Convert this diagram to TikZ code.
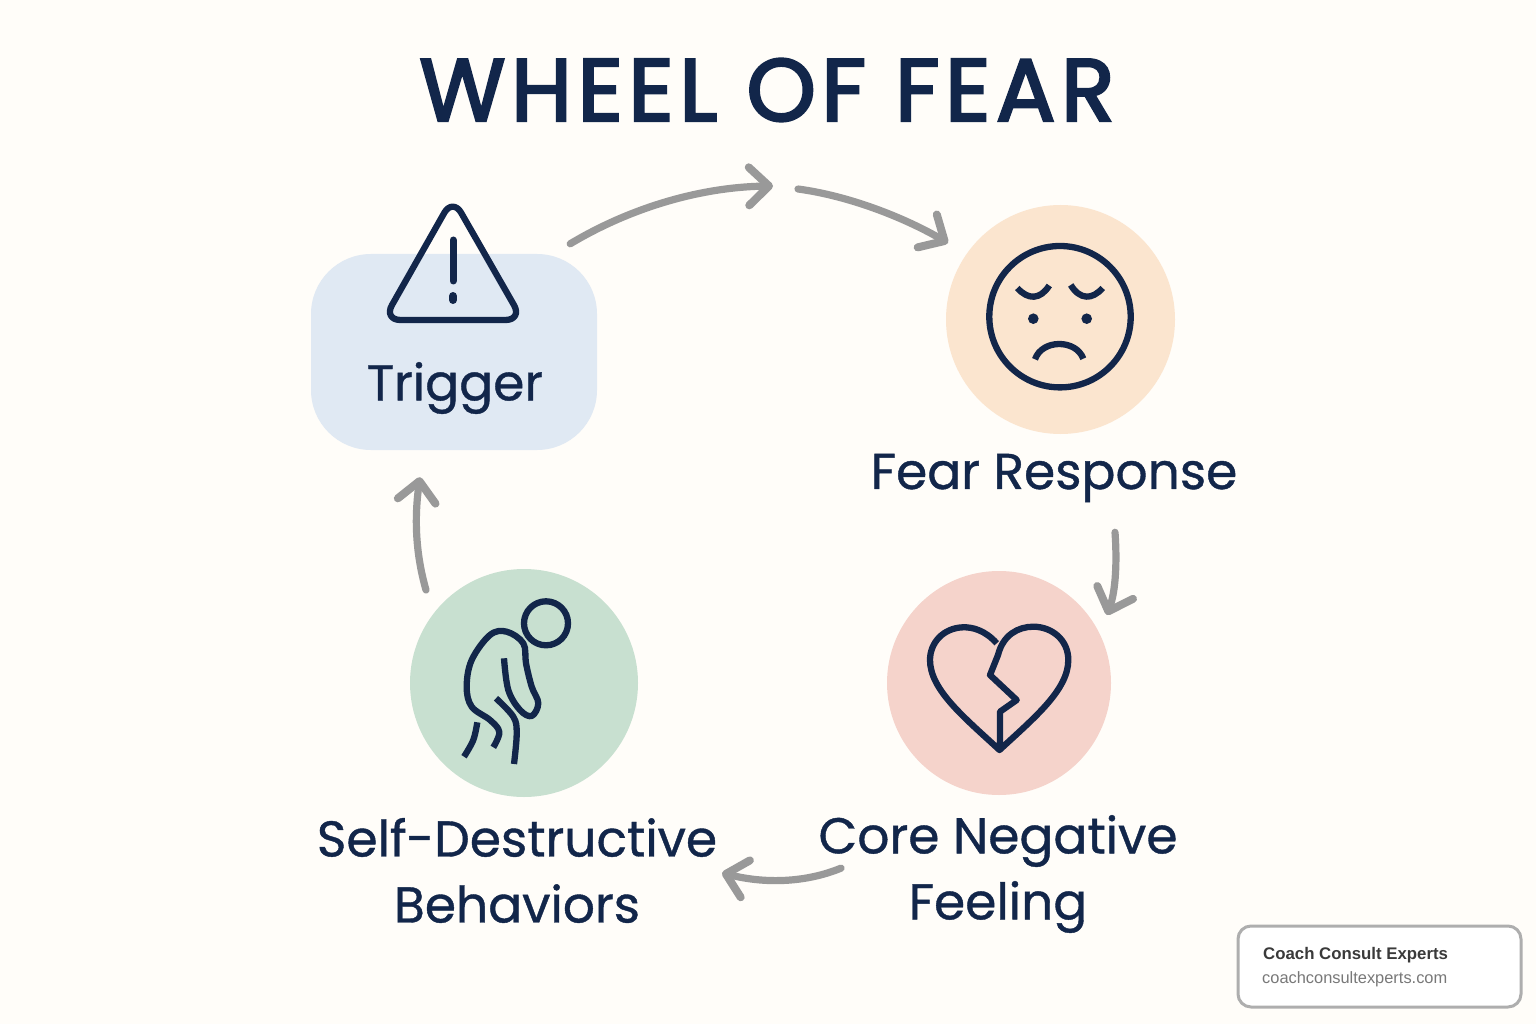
\documentclass[tikz,border=0pt]{standalone}
\usepackage{fontspec}
\setmainfont{Poppins}
\newfontfamily\captionfont[FakeBold=0.8]{Poppins}
\newfontfamily\titlefont[FakeBold=3,LetterSpace=6.5]{Poppins}
\newfontfamily\footfont{Liberation Sans}
\usetikzlibrary{arrows.meta}
\definecolor{paper}{HTML}{FFFDF9}
\definecolor{navy}{HTML}{12264A}
\definecolor{flowgray}{HTML}{999999}
\definecolor{trigcol}{HTML}{E0E9F3}
\definecolor{fearcol}{HTML}{FBE5CF}
\definecolor{corecol}{HTML}{F5D3CB}
\definecolor{selfcol}{HTML}{C8E0D0}
\tikzset{
    softcircle/.style={circle,inner sep=0pt,minimum size=#1},
    caption/.style={text=navy,align=center,inner sep=0pt,font=\captionfont\fontsize{50.3}{66}\selectfont},
    icon/.style={draw=navy,line width=6.3pt,line cap=round,line join=round},
    flow/.style={draw=flowgray,line width=7.2pt,line cap=round,-{Straight Barb[length=20pt,width=38pt,round,line width=8pt]}}
}
\begin{document}
\begin{tikzpicture}[x=1pt,y=-1pt]
    \useasboundingbox[fill=paper] (0,0) rectangle (1536,1024);
    \node[text=navy,inner sep=0pt,font=\titlefont\fontsize{88}{88}\selectfont] (title) at (767,90) {WHEEL OF FEAR};
    \node[fill=trigcol,minimum width=286pt,minimum height=196pt,rounded corners=60pt,inner sep=0pt] (trigger) at (454,352) {};
    \node[softcircle=229pt,fill=fearcol] (fear) at (1060.5,319.5) {};
    \node[softcircle=224pt,fill=corecol] (core) at (999,683) {};
    \node[softcircle=228pt,fill=selfcol] (self) at (524,683) {};
    \node[caption] (triggertext) at (455,388) {Trigger};
    \node[caption] (feartext) at (1054,478) {Fear Response};
    \node[caption] (coretext) at (998,874) {Core Negative\\Feeling};
    \node[caption] (selftext) at (517,870.5) {Self-Destructive\\Behaviors};
    \coordinate (gapleft) at (773,186);
    \coordinate (gapright) at (798,189);
    \draw[flow] ([shift={(-27,-10)}]trigger.north east) .. controls (630,208) and (700,187) .. (gapleft);
    \draw[flow] (gapright) .. controls (850,196) and (905,218) .. ([shift={(-112.5,-76.5)}]fear.center);
    \draw[flow] ([shift={(61,30)}]feartext.south) .. controls (1117,560) and (1116,590) .. ([shift={(108,-68)}]core.center);
    \draw[flow] ([shift={(-157,-65)}]coretext.south) .. controls (810,881) and (770,885) .. ([shift={(205,2.5)}]selftext.center);
    \draw[flow] ([shift={(-98,-93)}]self.center) .. controls (416,555) and (414,520) .. ([shift={(-34,27)}]trigger.south);
    % warning sign
    \draw[icon,rounded corners=17pt] (452.7,198) -- (522.5,320) -- (383.5,320) -- cycle;
    \draw[icon,line width=7pt] (453,240) -- (453,281);
    \draw[icon,line width=8pt] (453,296) -- (453,300);
    % sad face
    \draw[icon] (1060,316.7) circle (70.7);
    \draw[icon,line cap=butt] (1017.3,288) .. controls (1028,300) and (1040,300) .. (1049.3,285.5);
    \draw[icon,line cap=butt] (1070.7,285) .. controls (1080,300) and (1092,300) .. (1102.7,288);
    \fill[navy] (1033.3,318.7) circle (5.3) (1086.7,318.7) circle (5.3);
    \draw[icon,line cap=butt] (1035,359.3) .. controls (1042,339) and (1076,339) .. (1083.3,358.7);
    % broken heart
    \draw[icon,line cap=butt] (996.7,643.3) .. controls (985,630) and (972,627) .. (963,627.3) .. controls (943,628) and (930,643) .. (930,660) .. controls (930,690) and (965,718) .. (999.5,750) .. controls (1034,718) and (1068.3,690) .. (1068.3,660) .. controls (1068.3,640) and (1052,626.7) .. (1033.3,626.7) .. controls (1018,626.7) and (1003,635) .. (998,655) -- (990,675) -- (1016.7,700) -- (1000,711.7) -- (1000,750);
    % bent figure
    \draw[icon] (546,623.3) circle (22);
    \draw[icon,line cap=butt] plot[smooth,tension=0.6] coordinates {(493.3,747.3) (499.3,732) (490,720) (471.7,706.7) (466.7,686.7) (471.7,660) (490,635) (506.7,631.7) (523.3,643.3) (526,663.3) (531.7,686.7) (538.3,703.3) (531.7,716) (520,710) (508.3,690) (504,658.3)};
    \draw[icon,line cap=butt] plot[smooth,tension=0.6] coordinates {(496,698.3) (513.3,716.7) (516.7,733.3) (514,764)};
    \draw[icon,line cap=butt] plot[smooth,tension=0.6] coordinates {(477.3,722.3) (473.3,740) (464,756.7)};
    % badge
    \node[draw={rgb,255:red,174;green,174;blue,174},line width=3pt,fill=white,rounded corners=13pt,minimum width=283pt,minimum height=81pt,inner sep=0pt] (badge) at (1379.5,966.5) {};
    \node[anchor=west,inner sep=0pt,font=\footfont\bfseries\fontsize{16.8}{18}\selectfont,text={rgb,255:red,58;green,58;blue,58}] (badgename) at (1263,955) {Coach Consult Experts};
    \node[anchor=west,inner sep=0pt,font=\footfont\fontsize{16.4}{18}\selectfont,text={rgb,255:red,120;green,120;blue,120}] (badgeurl) at (1262,979) {coachconsultexperts.com};
\end{tikzpicture}
\end{document}
